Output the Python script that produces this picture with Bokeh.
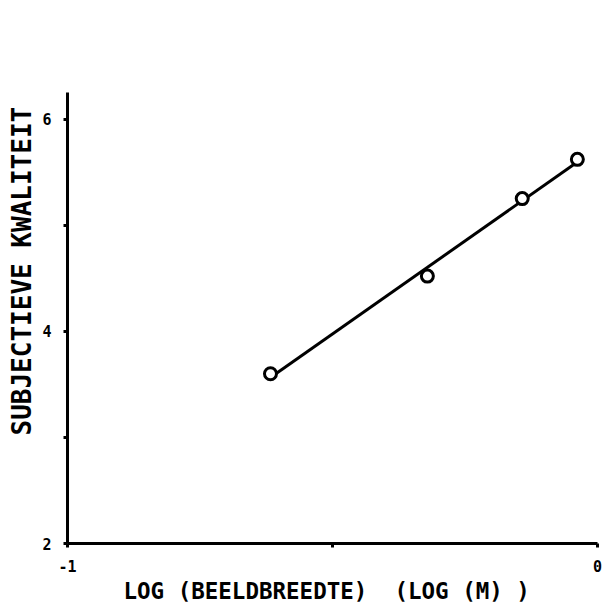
import numpy as np
from bokeh.plotting import figure
from bokeh.models import Range1d, FixedTicker, Title
from bokeh.embed import file_html
from bokeh.resources import INLINE

# data
log_width = [-0.617, -0.321, -0.142, -0.038]
quality = [3.60, 4.52, 5.25, 5.62]
x_ticks = [-1.0, -0.5, 0.0]
x_tick_labels = ["-1", "", "0"]
y_ticks = [2, 3, 4, 5, 6]
y_tick_labels = ["2", "", "4", "", "6"]
x_title = "LOG (BEELDBREEDTE)\u00a0 (LOG (M) )"
y_title = "SUBJECTIEVE KWALITEIT"

FONT = "DejaVu Sans Mono"

p = figure(width=602, height=609, output_backend="svg", toolbar_location=None,
           x_range=Range1d(-1, 0), y_range=Range1d(2, 6.25),
           min_border_left=67, min_border_right=5, min_border_top=92, min_border_bottom=66)
p.outline_line_color = None
p.xgrid.visible = False
p.ygrid.visible = False
p.background_fill_color = "white"

for ax, ticks, labels in ((p.xaxis[0], x_ticks, x_tick_labels), (p.yaxis[0], y_ticks, y_tick_labels)):
    ax.ticker = FixedTicker(ticks=ticks)
    ax.major_label_overrides = {t: l for t, l in zip(ticks, labels)}
    ax.minor_tick_line_color = None
    ax.axis_line_width = 3
    ax.axis_line_color = "black"
    ax.major_tick_line_width = 3
    ax.major_tick_line_color = "black"
    ax.major_tick_out = 4
    ax.major_tick_in = 0
    ax.major_label_text_font = FONT
    ax.major_label_text_font_style = "bold"
    ax.major_label_text_font_size = "15px"
    ax.major_label_text_color = "black"

p.yaxis[0].major_label_standoff = 12
p.xaxis[0].major_label_standoff = 12

# regression line through the data
slope, intercept = np.polyfit(log_width, quality, 1)
xs = np.array([min(log_width), max(log_width)])
p.line(xs, slope * xs + intercept, line_color="black", line_width=3)

p.scatter(log_width, quality, marker="circle", size=12, line_color="black",
          line_width=3, fill_color="white")

p.add_layout(Title(text=x_title, text_font=FONT, text_font_style="bold",
                   text_font_size="22.5px", align="left", offset=56, standoff=2,
                   text_color="black"), "below")
p.add_layout(Title(text=y_title, text_font=FONT, text_font_style="bold",
                   text_font_size="26px", align="left", offset=108, standoff=6,
                   text_color="black"), "left")

open("out.html", "w").write(file_html(p, INLINE))
